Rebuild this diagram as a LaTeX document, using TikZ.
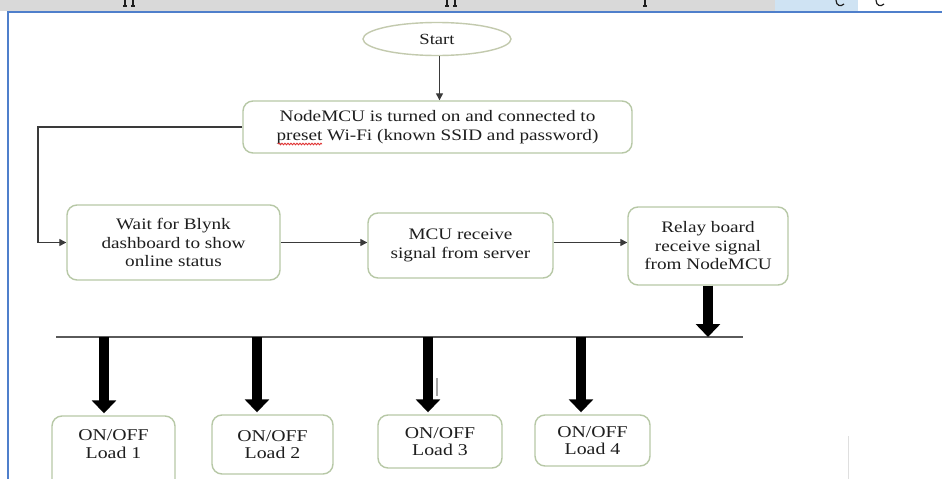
\documentclass[tikz,border=0pt]{standalone}
\usepackage{fontspec}
\setmainfont{Liberation Serif}[FakeStretch=1.2]
\usetikzlibrary{arrows.meta,shapes.geometric,decorations.pathmorphing}
\definecolor{boxc}{HTML}{B7C8A6}
\definecolor{ellc}{HTML}{C3CAAE}
\definecolor{txt}{HTML}{1E1E1E}
\definecolor{framec}{HTML}{4F7FCB}
\definecolor{bandc}{HTML}{D9D9D9}
\definecolor{bandblue}{HTML}{CFE3F3}
\definecolor{linec}{HTML}{3A3A3A}
\definecolor{busc}{HTML}{5A5A5A}
\definecolor{spellred}{HTML}{E03030}
\tikzset{
  box/.style={draw=boxc, line width=1.4pt, rounded corners=10pt, fill=white,
    text=txt, align=center, font=\fontsize{16}{18.5}\selectfont, inner sep=0pt},
  loadbox/.style={box, font=\fontsize{16.5}{17.5}\selectfont},
  loadtext/.style={text=txt, align=center, font=\fontsize{16.5}{17.5}\selectfont, inner sep=0pt},
  startnode/.style={ellipse, draw=ellc, line width=1.4pt, fill=white, text=txt,
    font=\fontsize{15.5}{15.5}\selectfont, inner sep=0pt, minimum width=148pt, minimum height=33pt},
  thinarr/.style={draw=linec, line width=1.3pt, -{Triangle[width=7pt,length=7pt]}},
  bigarr/.style={draw=black, line width=10pt, -{Triangle[width=24pt,length=13pt]}},
  busline/.style={draw=busc, line width=1.8pt},
  fragstroke/.style={draw=txt, line width=1.2pt},
  spellwave/.style={draw=spellred, line width=0.9pt, decorate,
    decoration={snake, amplitude=0.8pt, segment length=3pt}},
}
\begin{document}
\begin{tikzpicture}[x=1pt,y=-1pt]
\clip (0,0) rectangle (942,479);
\fill[white] (0,0) rectangle (942,479);
% top band of the page (cut-off line of text above)
\fill[bandc] (0,0) rectangle (775,11);
\fill[bandblue] (775,0) rectangle (858,11);
\foreach \fx in {125,133,447,455,645}{
  \draw[fragstroke] (\fx,0) -- (\fx,6);
  \draw[fragstroke] (\fx-2,6) -- (\fx+2,6);
}
\draw[fragstroke] (836,0) .. controls (836,6) and (841,7) .. (844,4);
\draw[fragstroke] (876,0) .. controls (876,6) and (881,7) .. (884,4);
% blue frame
\draw[framec, line width=2pt] (8,479) -- (8,12) -- (942,12);
\draw[gray!25, line width=1pt] (848,436) -- (848,479);

% nodes
\node[startnode] (start) at (437,39) {Start};
\node[box, minimum width=389pt, minimum height=52pt] (nodemcu) at (437.5,127)
  {NodeMCU is turned on and connected to\\preset Wi-Fi (known SSID and password)};
\node[box, minimum width=213pt, minimum height=75pt] (wait) at (173.5,242.5)
  {Wait for Blynk\\dashboard to show\\online status};
\node[box, minimum width=185pt, minimum height=65pt] (mcu) at (460.5,245.5)
  {MCU receive\\signal from server};
\node[box, minimum width=160pt, minimum height=78pt] (relay) at (708,246)
  {Relay board\\receive signal\\from NodeMCU};

\node[loadbox, minimum width=123pt, minimum height=76pt] (load1) at (113.5,454) {};
\node[loadtext] (load1t) at (113.5,444) {ON/OFF\\Load 1};
\node[loadbox, minimum width=121pt, minimum height=59pt] (load2) at (272.5,444.5) {ON/OFF\\Load 2};
\node[loadbox, minimum width=124pt, minimum height=53pt] (load3) at (440,441.5) {ON/OFF\\Load 3};
\node[loadbox, minimum width=115pt, minimum height=51pt] (load4) at (592.5,440.5) {ON/OFF\\Load 4};

% spell-check mark under "preset"
\coordinate (pw1) at (278,144);
\coordinate (pw2) at (322,144);
\draw[spellwave] (pw1) -- (pw2);

% helper coordinates
\coordinate (loop) at (38,127);
\coordinate (busL) at (56,337);
\coordinate (busR) at (743,337);
\coordinate (b1) at (104,337);
\coordinate (b2) at (257,337);
\coordinate (b3) at (428,337);
\coordinate (b4) at (581,337);

% connectors
\draw[thinarr] (start.south -| nodemcu.north) ++(2,0) coordinate (s1) -- (s1 |- nodemcu.north);
\draw[thinarr] (nodemcu.west) -- (loop) |- (wait.west);
\draw[thinarr] (wait.east) -- (wait.east -| mcu.west);
\draw[thinarr] (wait.east -| mcu.east) -- (wait.east -| relay.west);
\draw[busline] (busL) -- (busR);
\draw[bigarr] (relay.south) -- (relay.south |- busR);
\draw[bigarr, shorten >=2pt] (b1) -- (b1 |- load1.north);
\draw[bigarr, shorten >=2pt] (b2) -- (b2 |- load2.north);
\draw[bigarr, shorten >=2pt] (b3) -- (b3 |- load3.north);
\draw[bigarr, shorten >=2pt] (b4) -- (b4 |- load4.north);
\draw[gray!70, line width=1.5pt] (437,378) -- (437,396);
\end{tikzpicture}
\end{document}
